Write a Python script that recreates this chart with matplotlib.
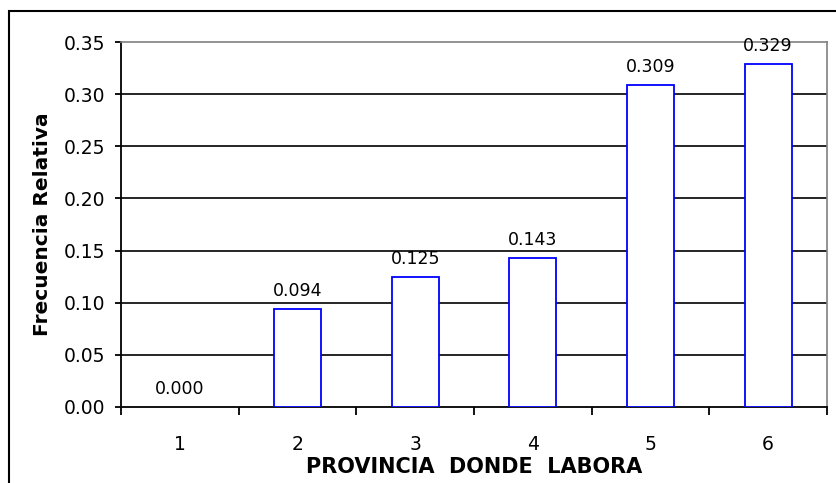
import matplotlib.pyplot as plt
import matplotlib.patches as mpatches
import numpy as np

# datos
provincias = ['1', '2', '3', '4', '5', '6']
frecuencia = [0.000, 0.094, 0.125, 0.143, 0.309, 0.329]
yticks = [0.00, 0.05, 0.10, 0.15, 0.20, 0.25, 0.30, 0.35]

plt.rcParams['font.family'] = ['DejaVu Sans']

fig = plt.figure(figsize=(8.37, 4.83), dpi=100)
ax = fig.add_axes([121/837, 1 - 407/483, (827 - 121)/837, (407 - 42)/483])

x = np.arange(1, len(provincias) + 1)
bordes = ['#0000ff' if v > 0 else 'none' for v in frecuencia]
ax.bar(x, frecuencia, width=0.4, facecolor='white', edgecolor=bordes,
       linewidth=1.3, zorder=3)

for xi, v in zip(x, frecuencia):
    ax.annotate(f'{v:.3f}', (xi, v), xytext=(0, 6.5), textcoords='offset points',
                ha='center', va='bottom', fontsize=12.5, zorder=5)

ax.set_xlim(0.5, len(provincias) + 0.5)
ax.set_ylim(0, 0.35)
ax.set_yticks(yticks)
ax.set_yticklabels([f'{t:.2f}' for t in yticks], fontsize=13.5)

# ticks del eje x en los limites de categoria, etiquetas al centro
ax.set_xticks(np.arange(0.5, len(provincias) + 1, 1))
ax.set_xticklabels([])
ax.set_xticks(x, minor=True)
ax.set_xticklabels(provincias, minor=True, fontsize=13.5)
ax.tick_params(axis='x', which='major', direction='out', length=6, width=1.3)
ax.tick_params(axis='x', which='minor', length=0, pad=20)
ax.tick_params(axis='y', direction='out', length=4, width=1.3, pad=7)

for t in yticks[1:-1]:
    ax.axhline(t, color='black', linewidth=1.2, zorder=1)

ax.spines['left'].set_linewidth(1.3)
ax.spines['bottom'].set_linewidth(1.3)
ax.spines['top'].set_color('#808080')
ax.spines['right'].set_color('#808080')
ax.spines['top'].set_linewidth(1.2)
ax.spines['right'].set_linewidth(1.2)

ax.set_xlabel('PROVINCIA  DONDE  LABORA', fontsize=15, fontweight='bold', labelpad=2)
ax.set_ylabel('Frecuencia Relativa', fontsize=14.5, fontweight='bold', labelpad=9)

# marco exterior
frame = mpatches.Rectangle((9/837, -0.1), 1.2, 1 - 11/483 + 0.1,
                           transform=fig.transFigure, fill=False,
                           edgecolor='black', linewidth=1.5)
fig.patches.append(frame)

fig.savefig('out.png', dpi=100)
